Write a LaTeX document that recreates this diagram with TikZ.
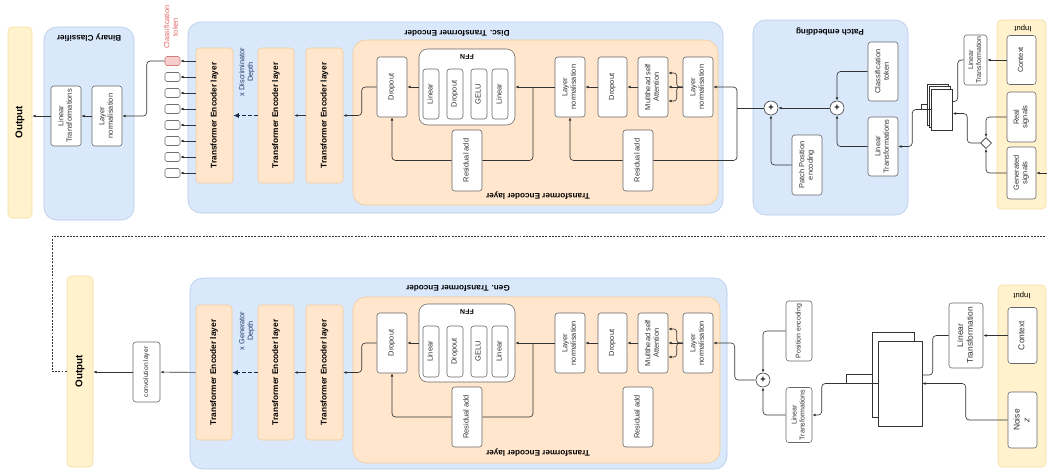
\documentclass[tikz,border=0pt]{standalone}
\usepackage{fontspec}
\setmainfont{Liberation Sans}
\usepackage{graphicx}
\usetikzlibrary{arrows.meta,calc,shapes.geometric}

\definecolor{bluefill}{HTML}{DAE8FC}
\definecolor{blueline}{HTML}{B3C8E8}
\definecolor{orfill}{HTML}{FFE6CC}
\definecolor{orline}{HTML}{F2CA98}
\definecolor{yefill}{HTML}{FFF2CC}
\definecolor{yeline}{HTML}{F3DDA0}
\definecolor{redfill}{HTML}{F8CECC}
\definecolor{redline}{HTML}{D08080}
\definecolor{redtext}{HTML}{E06666}
\definecolor{ink}{HTML}{333333}
\definecolor{depth}{HTML}{1F3864}

\newcommand{\vtext}[1]{\rotatebox{90}{\begin{tabular}{@{}c@{}}#1\end{tabular}}}

\tikzset{
  sz/.style 2 args={minimum width=#1*0.025cm, minimum height=#2*0.025cm},
  box/.style={draw=ink!75, fill=white, rounded corners=2pt, inner sep=0pt, text=ink, font=\fontsize{5.3}{6}\selectfont},
  tok/.style={draw=ink!70, fill=white, rounded corners=1.2pt, inner sep=0pt, sz={15}{9}},
  tel/.style={draw=orline, fill=orfill, rounded corners=2.5pt, inner sep=0pt, font=\bfseries\fontsize{5.9}{7}\selectfont},
  bluecont/.style={draw=blueline, fill=bluefill, rounded corners=9pt, inner sep=0pt},
  orcont/.style={draw=orline, fill=orfill, rounded corners=9pt, inner sep=0pt},
  yecont/.style={draw=yeline, fill=yefill, rounded corners=3pt, inner sep=0pt},
  outtxt/.style={font=\bfseries\fontsize{7}{8}\selectfont},
  ttl/.style={rotate=180, inner sep=0pt, font=\bfseries\fontsize{5.8}{7}\selectfont},
  deptxt/.style={text=depth, inner sep=0pt, font=\fontsize{5.2}{6}\selectfont},
  sumnode/.style={circle, draw=ink, fill=white, minimum size=14*0.025cm, inner sep=0pt, font=\bfseries\fontsize{6.5}{7}\selectfont},
  pagebox/.style={draw=ink, fill=white, inner sep=0pt},
  wire/.style={draw=ink, line width=0.45pt},
  arr/.style={wire, -{Latex[length=2.4pt,width=2pt]}},
  rc/.style={rounded corners=2.5pt},
  deparr/.style={draw=depth!70!black, line width=1pt, dash pattern=on 2.5pt off 1.8pt, -{Latex[length=4pt,width=3.6pt]}},
  fbline/.style={draw=ink, line width=0.6pt, dash pattern=on 1.4pt off 0.9pt},
}

\begin{document}
\begin{tikzpicture}[x=0.025cm, y=-0.025cm]
      \useasboundingbox (0,0) rectangle (1047,470);

      % discriminator
      \node[yecont, sz={24}{191}, outtxt] (outD) at (20,122.5) {\rotatebox{90}{Output}};
      \node[bluecont, sz={90}{193}] (bc) at (89,123.5) {};
      \node[ttl] (tbc) at (89,38) {Binary Classifier};
      \node[box, sz={30}{60}] (bclin) at (66,116) {\vtext{Linear\\Transformations}};
      \node[box, sz={30}{60}] (bcln) at (107,116) {\vtext{Layer\\normalisation}};

      \node[tok, draw=redline, fill=redfill] (tok0) at (172.5,61) {};
      \foreach \i in {1,...,7}
        \node[tok] (tok\i) at (172.5,{61+16*\i}) {};
      \node[text=redtext, inner sep=0pt, font=\fontsize{5.3}{6}\selectfont] (toklbl) at (172,27) {\vtext{Classification\\token}};

      \node[bluecont, sz={535}{191}] (disc) at (455.5,117.5) {};
      \node[ttl] (tdisc) at (457,33) {Disc. Transformer Encoder};
      \node[tel, sz={37}{135}] (dtel1) at (214.5,115.5) {\rotatebox{90}{Transformer Encoder layer}};
      \node[tel, sz={36}{135}] (dtel2) at (276,115.5) {\rotatebox{90}{Transformer Encoder layer}};
      \node[tel, sz={37}{135}] (dtel3) at (324.5,115.5) {\rotatebox{90}{Transformer Encoder layer}};
      \node[deptxt] (ddepth) at (247,72) {\vtext{x Discriminator\\Depth}};

      \node[orcont, sz={365}{165}] (dlayer) at (535.5,122.5) {};
      \node[ttl] (tdlayer) at (538,196) {Transformer Encoder layer};
      \node[box, sz={30}{60}] (ddrop2) at (392,87) {\vtext{Dropout}};
      \node[box, sz={96}{76}, rounded corners=6pt] (dffn) at (467,87) {};
      \node[ttl, font=\bfseries\fontsize{5}{6}\selectfont] (tdffn) at (467,57) {FFN};
      \node[box, sz={16}{50}] (dlin2) at (431,94) {\vtext{Linear}};
      \node[box, sz={16}{50}] (ddrop3) at (455,94) {\vtext{Dropout}};
      \node[box, sz={16}{50}] (dgelu) at (479,94) {\vtext{GELU}};
      \node[box, sz={16}{50}] (dlin1) at (500,94) {\vtext{Linear}};
      \node[box, sz={30}{60}] (dln2) at (570,87) {\vtext{Layer\\normalisation}};
      \node[box, sz={30}{61}] (dres2) at (467,160.5) {\vtext{Residual add}};
      \node[box, sz={29}{60}] (ddrop1) at (612.5,87) {\vtext{Dropout}};
      \node[box, sz={30}{60}] (dmsa) at (653,87) {\vtext{Multihead self\\Attention}};
      \node[box, sz={30}{60}] (dln1) at (698,87) {\vtext{Layer\\normalisation}};
      \node[box, sz={30}{61}] (dres1) at (638,160.5) {\vtext{Residual add}};

      \node[bluecont, sz={155}{195}] (patch) at (830.5,117.5) {};
      \node[ttl] (tpatch) at (830,32) {Patch embedding};
      \node[sumnode] (dsum1) at (771,108) {+};
      \node[sumnode] (dsum2) at (837,108) {+};
      \node[box, sz={30}{59}] (ctok) at (883,71.5) {\vtext{Classification\\token}};
      \node[box, sz={30}{59}] (dlint) at (883,146.5) {\vtext{Linear\\Transformations}};
      \node[box, sz={30}{60}] (ppe) at (807,165) {\vtext{Patch Position\\encoding}};

      \foreach \i in {1,2,3}
        \node[pagebox, sz={21}{41}] (dstack\i) at ({936+2*\i},{102+2.5*\i}) {};
      \node[box, sz={23}{50}, font=\fontsize{5}{5.8}\selectfont] (dctxlin) at (975.5,60) {\vtext{Linear\\Transformation}};

      \node[yecont, sz={49}{189}] (dinput) at (1021.5,114.5) {};
      \node[ttl, font=\fontsize{5.5}{6.5}\selectfont] (tdinput) at (1023,28) {Input};
      \node[box, sz={29}{49}] (dctx) at (1021.5,60) {\vtext{Context}};
      \node[box, sz={29}{50}] (real) at (1021.5,117) {\vtext{Real\\signals}};
      \node[box, sz={29}{52}] (gen) at (1021.5,173) {\vtext{Generated\\signals}};
      \node[diamond, draw=ink, fill=white, sz={11}{11}, inner sep=0pt] (diam) at (986,143) {};

      \draw[arr] (bcln) -- (bclin);
      \draw[arr] (bclin.west) -- (bclin.west -| outD.east);
      \draw[arr, rc] (tok0.west) -- ++(-18,0) |- (bcln.east);
      \foreach \i in {0,...,7}
        \draw[arr] (dtel1.west |- tok\i) -- (tok\i.east);
      \draw[deparr] (dtel2) -- (dtel1);
      \draw[arr] (dtel3) -- (dtel2);
      \draw[arr, rc] (ddrop2.west) -- ++(-15,0) |- (dtel3.east);
      \draw[arr] (dffn) -- (ddrop2);
      \draw[arr] (dln2) -- (dffn);
      \coordinate (dj2) at (533,87);
      \draw[wire, rc] (dj2) |- (dres2);
      \draw[arr, rc] (dres2) -| (ddrop2.south);
      \draw[arr] (ddrop1) -- (dln2);
      \draw[arr] (dmsa) -- (ddrop1);
      \draw[arr] (dln1) -- (dmsa);
      \foreach \dy in {-14,14}
        \draw[arr, rounded corners=2pt] (dln1.west) -- ++(-6,0) |- ($(dmsa.east)+(0,\dy)$);
      \coordinate (dj1) at (737,108);
      \draw[wire] (dsum1) -- (dj1);
      \draw[arr, rc] (dj1) |- (dln1.east);
      \draw[wire, rc] (dj1) |- (dres1);
      \draw[arr, rc] (dres1) -| (dln2.south);
      \draw[arr] (dsum2) -- (dsum1);
      \draw[arr, rc] (ctok.west) -| (dsum2.north);
      \draw[arr, rc] (dlint.west) -| (dsum2.south);
      \draw[arr, rc] (ppe.west) -| (dsum1.south);
      \draw[wire] (dstack1.west) -- ++(-6,0) |- (dstack3.west);
      \draw[arr, rc] (dstack3.west) -- ++(-19,0) |- (dlint.east);
      \draw[wire, rc] (dctxlin.west) -- ++(-6,0) |- ($(dstack3.east)+(0,-8)$);
      \draw[arr, rc] (diam.west) -- ++(-13,0) |- ($(dstack3.east)+(0,4)$);
      \draw[arr] (dctx) -- (dctxlin);
      \draw[arr, rc] (real.west) -| (diam.north);
      \draw[arr, rc] (gen.west) -| (diam.south);
      \coordinate (fbin) at (1047,173);
      \draw[arr] (fbin) -- (gen.east);

      % generator
      \node[yecont, sz={26}{191}, outtxt] (outG) at (80,371.5) {\rotatebox{90}{Output}};
      \node[box, sz={27}{60}, font=\fontsize{4.8}{5.5}\selectfont] (conv) at (146.5,372) {\vtext{convolution layer}};

      \node[bluecont, sz={537}{191}] (gencont) at (458.5,373.5) {};
      \node[ttl] (tgen) at (458,288) {Gen. Transformer Encoder};
      \node[tel, sz={36}{135}] (gtel1) at (214,372.5) {\rotatebox{90}{Transformer Encoder layer}};
      \node[tel, sz={36}{135}] (gtel2) at (276,372.5) {\rotatebox{90}{Transformer Encoder layer}};
      \node[tel, sz={37}{135}] (gtel3) at (324.5,372.5) {\rotatebox{90}{Transformer Encoder layer}};
      \node[deptxt] (gdepth) at (247,331) {\vtext{x Generator\\Depth}};

      \node[orcont, sz={367}{166}] (glayer) at (536.5,380) {};
      \node[ttl] (tglayer) at (538,453) {Transformer Encoder layer};
      \node[box, sz={30}{60}] (gdrop2) at (392,343) {\vtext{Dropout}};
      \node[box, sz={96}{78}, rounded corners=6pt] (gffn) at (467,343) {};
      \node[ttl, font=\bfseries\fontsize{5}{6}\selectfont] (tgffn) at (467,312) {FFN};
      \node[box, sz={16}{51}] (glin2) at (431,351.5) {\vtext{Linear}};
      \node[box, sz={16}{51}] (gdrop3) at (455,351.5) {\vtext{Dropout}};
      \node[box, sz={16}{51}] (ggelu) at (479,351.5) {\vtext{GELU}};
      \node[box, sz={16}{51}] (glin1) at (500,351.5) {\vtext{Linear}};
      \node[box, sz={30}{60}] (gln2) at (570,343) {\vtext{Layer\\normalisation}};
      \node[box, sz={30}{60}] (gres2) at (467,417) {\vtext{Residual add}};
      \node[box, sz={29}{60}] (gdrop1) at (612.5,343) {\vtext{Dropout}};
      \node[box, sz={30}{60}] (gmsa) at (653,343) {\vtext{Multihead self\\Attention}};
      \node[box, sz={30}{60}] (gln1) at (698,343) {\vtext{Layer\\normalisation}};
      \node[box, sz={30}{60}] (gres1) at (638,417) {\vtext{Residual add}};

      \node[sumnode] (gsum) at (763,380) {+};
      \node[box, sz={26}{60}, font=\fontsize{4.9}{5.8}\selectfont] (gpe) at (799,331) {\vtext{Position encoding}};
      \node[box, sz={26}{55}, font=\fontsize{5}{5.8}\selectfont] (glint) at (799,415) {\vtext{Linear\\Transformations}};
      \node[pagebox, sz={42}{85}] (gstackb) at (893,374.5) {};
      \node[pagebox, sz={44}{85}] (gstackf) at (900,383.5) {};
      \node[box, sz={34}{65}, font=\fontsize{6}{7}\selectfont] (gctxlin) at (966,335.5) {\vtext{Linear\\Transformation}};

      \node[yecont, sz={48}{182}] (ginput) at (1022,376) {};
      \node[ttl, font=\fontsize{5.5}{6.5}\selectfont] (tginput) at (1022,295) {Input};
      \node[box, sz={29}{56}, font=\fontsize{6}{7}\selectfont] (gctx) at (1022.5,335.5) {\vtext{Context}};
      \node[box, sz={29}{56}, font=\fontsize{6}{7}\selectfont] (noise) at (1022.5,420) {\vtext{Noise\\\textit{z}}};

      \draw[arr] (gtel1) -- (conv);
      \draw[arr] (conv.west) -- (conv.west -| outG.east);
      \coordinate (fbcorner) at (52,236);
      \coordinate (fbend) at (1047,236);
      \draw[fbline] (outG.west) -| (fbcorner) -- (fbend);
      \draw[deparr] (gtel2) -- (gtel1);
      \draw[arr] (gtel3) -- (gtel2);
      \draw[arr, rc] (gdrop2.west) -- ++(-15,0) |- (gtel3.east);
      \draw[arr] (gffn) -- (gdrop2);
      \draw[arr] (gln2) -- (gffn);
      \coordinate (gj2) at (533,343);
      \draw[wire, rc] (gj2) |- (gres2);
      \draw[arr, rc] (gres2) -| (gdrop2.south);
      \draw[arr] (gdrop1) -- (gln2);
      \draw[arr] (gmsa) -- (gdrop1);
      \draw[arr] (gln1) -- (gmsa);
      \foreach \dy in {-14,14}
        \draw[arr, rounded corners=2pt] (gln1.west) -- ++(-6,0) |- ($(gmsa.east)+(0,\dy)$);
      \draw[arr, rc] (gsum.west) -- ++(-21,0) |- (gln1.east);
      \draw[arr, rc] (gpe.west) -| (gsum.north);
      \draw[arr, rc] (glint.west) -| (gsum.south);
      \draw[wire] (gstackb.west) -- ++(-25,0) |- (gstackf.west);
      \draw[arr, rc] (gstackf.west) -- ++(-56,0) |- (glint.east);
      \draw[wire, rc] (gctxlin.west) -- ++(-16,0) |- ($(gstackf.east)+(0,-8.5)$);
      \draw[arr, rc] (noise.west) -- ++(-42,0) |- (gstackf.east);
      \draw[arr] (gctx) -- (gctxlin);

\end{tikzpicture}
\end{document}
